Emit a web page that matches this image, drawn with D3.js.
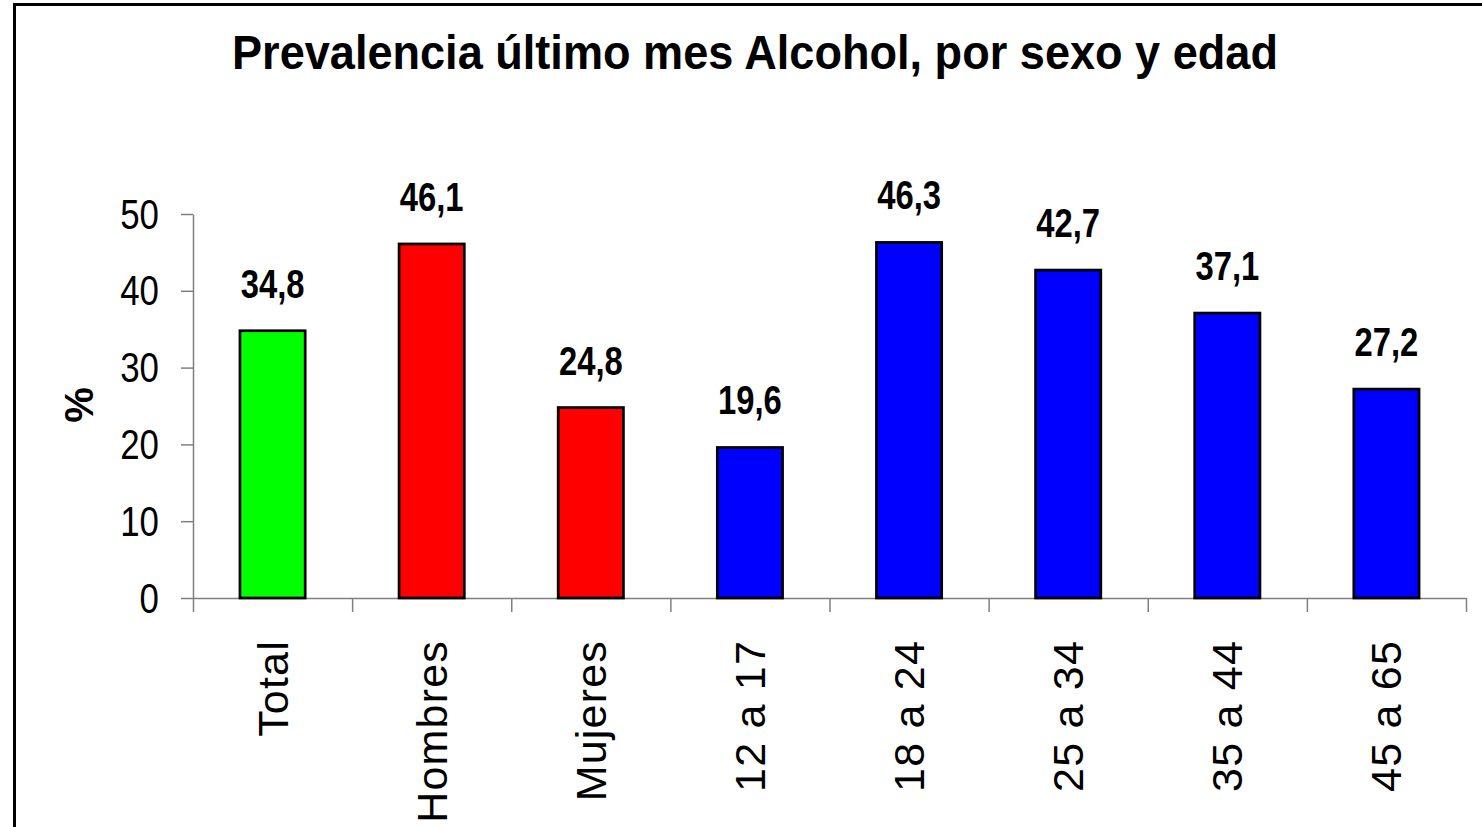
<!DOCTYPE html>
<html>
<head>
<meta charset="utf-8">
<script src="https://cdn.jsdelivr.net/npm/d3@7"></script>
<style>
  body { margin: 0; background: #fff; }
  svg { display: block; }
  text { font-family: "Liberation Sans", Arial, sans-serif; fill: #000; }
  .axis path, .axis line { stroke: #808080; stroke-width: 1.5; }
</style>
</head>
<body>
<div id="chart"></div>
<script>
var titleText = 'Prevalencia último mes Alcohol, por sexo y edad';
var categories = ['Total', 'Hombres', 'Mujeres', '12 a 17', '18 a 24', '25 a 34', '35 a 44', '45 a 65'];
var values = [34.8, 46.1, 24.8, 19.6, 46.3, 42.7, 37.1, 27.2];
var groups = ['total', 'sexo', 'sexo', 'edad', 'edad', 'edad', 'edad', 'edad'];
var yTicks = [0, 10, 20, 30, 40, 50];

var width = 1482, height = 827;
var plotLeft = 193, plotRight = 1466, plotTop = 214, plotBottom = 598;

var svg = d3.select('#chart').append('svg')
    .attr('width', width)
    .attr('height', height);

// outer frame (only top/left are visible in the picture)
svg.append('rect')
    .attr('x', 14.5).attr('y', 4.5)
    .attr('width', width + 20).attr('height', height + 20)
    .attr('fill', 'none')
    .attr('stroke', '#000')
    .attr('stroke-width', 3);

svg.append('text')
    .attr('x', 755).attr('y', 69)
    .attr('text-anchor', 'middle')
    .attr('font-weight', 'bold')
    .attr('font-size', 49)
    .attr('textLength', 1046)
    .attr('lengthAdjust', 'spacingAndGlyphs')
    .text(titleText);

var y = d3.scaleLinear().domain([0, 50]).range([plotBottom, plotTop]);
var x = d3.scaleBand().domain(categories).range([plotLeft, plotRight])
    .paddingInner(0.59).paddingOuter(0.295);
var xEdge = d3.scaleLinear().domain([0, categories.length]).range([plotLeft, plotRight]);
var color = d3.scaleOrdinal().domain(['total', 'sexo', 'edad'])
    .range(['#00ff00', '#ff0000', '#0000ff']);

// y axis
var yAxis = svg.append('g')
    .attr('class', 'axis')
    .attr('transform', 'translate(' + plotLeft + ',0)')
    .call(d3.axisLeft(y).tickValues(yTicks).tickSize(12).tickSizeOuter(0).tickFormat(''));
yAxis.selectAll('.tick').each(function (d) {
    d3.select(this).append('text')
        .attr('transform', 'translate(-34,14) scale(0.83,1)')
        .attr('text-anchor', 'end')
        .attr('font-size', 42)
        .text(d);
});

// x axis with ticks between categories
svg.append('g')
    .attr('class', 'axis')
    .attr('transform', 'translate(0,' + plotBottom + ')')
    .call(d3.axisBottom(xEdge).ticks(categories.length).tickSize(14).tickSizeOuter(0).tickFormat(''));

svg.append('g').selectAll('text')
    .data(categories)
    .enter().append('text')
    .attr('transform', function (d) {
        return 'translate(' + (x(d) + x.bandwidth() / 2 + 15) + ',640) rotate(-90)';
    })
    .attr('text-anchor', 'end')
    .attr('font-size', 43)
    .attr('letter-spacing', 1.2)
    .text(function (d) { return d; });

// y axis title
svg.append('text')
    .attr('transform', 'translate(93,405) rotate(-90)')
    .attr('text-anchor', 'middle')
    .attr('font-weight', 'bold')
    .attr('font-size', 40)
    .text('%');

// bars
svg.append('g').selectAll('rect')
    .data(values)
    .enter().append('rect')
    .attr('x', function (d, i) { return x(categories[i]); })
    .attr('y', function (d) { return y(d); })
    .attr('width', x.bandwidth())
    .attr('height', function (d) { return y(0) - y(d); })
    .attr('fill', function (d, i) { return color(groups[i]); })
    .attr('stroke', '#000')
    .attr('stroke-width', 2.7);

// value labels
svg.append('g').selectAll('text')
    .data(values)
    .enter().append('text')
    .attr('transform', function (d, i) {
        return 'translate(' + (x(categories[i]) + x.bandwidth() / 2) + ',' + (y(d) - 33) + ') scale(0.82,1)';
    })
    .attr('text-anchor', 'middle')
    .attr('font-weight', 'bold')
    .attr('font-size', 40)
    .text(function (d) { return d.toFixed(1).replace('.', ','); });
</script>
</body>
</html>
